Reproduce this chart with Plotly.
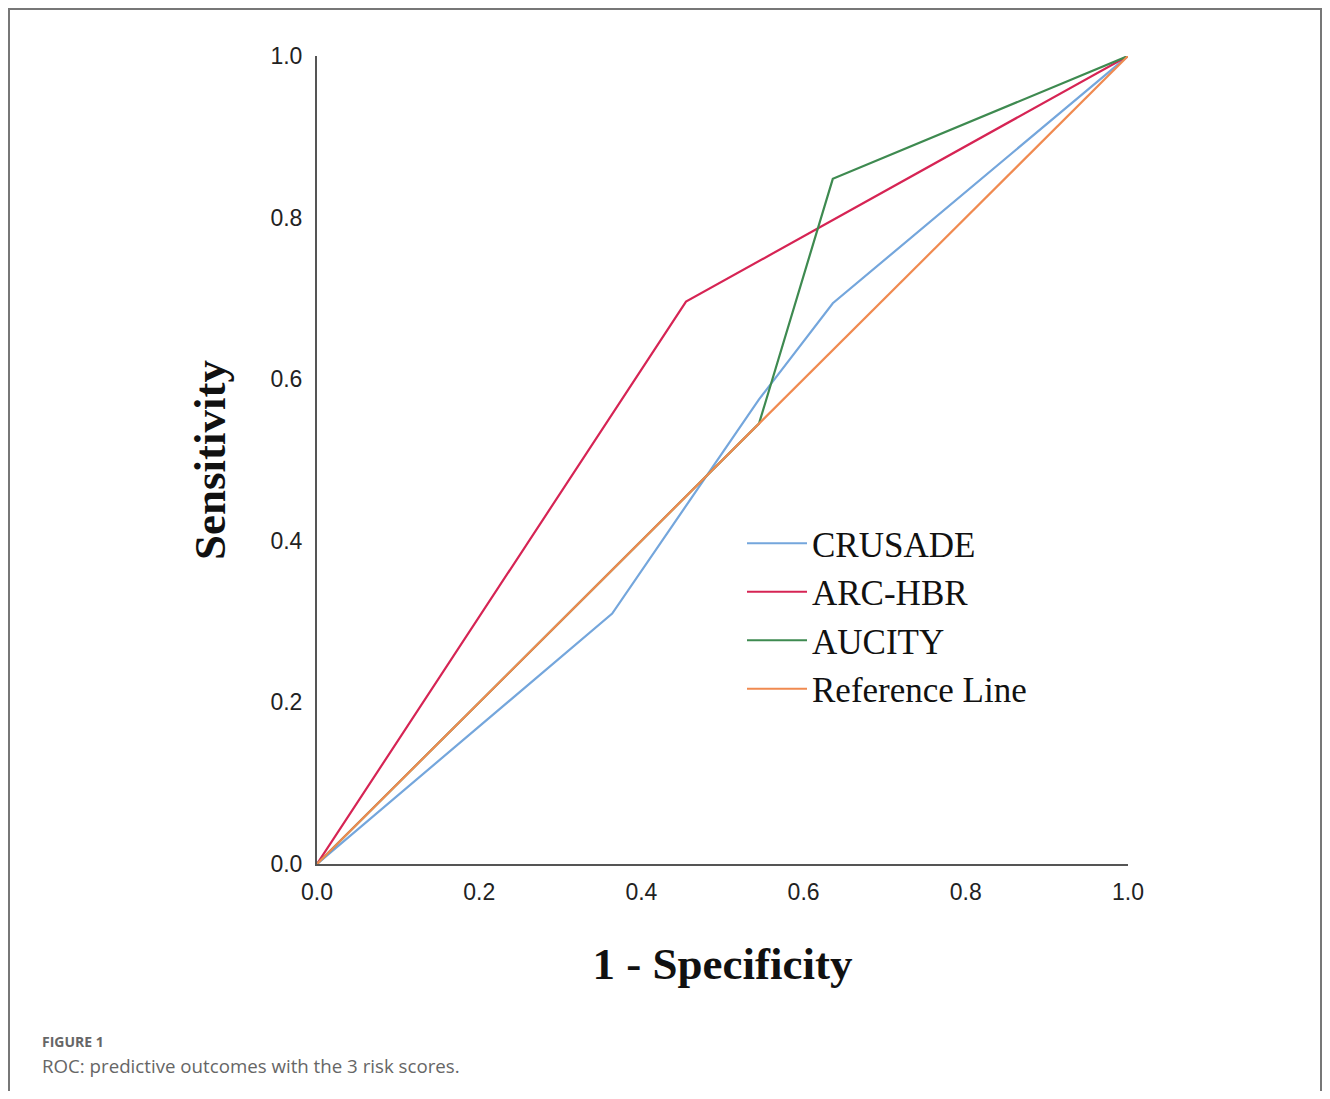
import plotly.graph_objects as go

# ROC data
crusade_x = [0.0, 0.364, 0.545, 0.636, 1.0]
crusade_y = [0.0, 0.31, 0.575, 0.694, 1.0]
arc_x = [0.0, 0.455, 1.0]
arc_y = [0.0, 0.696, 1.0]
aucity_x = [0.0, 0.545, 0.636, 1.0]
aucity_y = [0.0, 0.545, 0.848, 1.0]
ref_x = [0.0, 1.0]
ref_y = [0.0, 1.0]

series_names = ["CRUSADE", "ARC-HBR", "AUCITY", "Reference Line"]
series_colors = ["#74a6dc", "#d62454", "#3e8a50", "#f08a50"]
tick_vals = [0.0, 0.2, 0.4, 0.6, 0.8, 1.0]
tick_text = ["0.0", "0.2", "0.4", "0.6", "0.8", "1.0"]

OFF = 8  # page body margin
W, H = 1314, 1083
L = 317 - OFF
T = 56 - OFF
R = W - (1128 - OFF)
B = H - (864 - OFF)
pw, ph = W - L - R, H - T - B

fig = go.Figure()
for name, xs, ys, col in zip(series_names,
                             [crusade_x, arc_x, aucity_x, ref_x],
                             [crusade_y, arc_y, aucity_y, ref_y],
                             series_colors):
    fig.add_trace(go.Scatter(x=xs, y=ys, mode="lines", name=name,
                             line=dict(color=col, width=2.2)))

def px(xs):
    return (xs - OFF - L) / pw

def py(ys):
    return (H - B - (ys - OFF)) / ph

axis_common = dict(range=[0, 1], tickvals=tick_vals, ticktext=tick_text,
                   showgrid=False, zeroline=False, showline=True,
                   linecolor="#555555", linewidth=2, ticks="",
                   tickfont=dict(family="Liberation Sans, Arial", size=23, color="#222222"))

fig.update_layout(
    width=W, height=H,
    margin=dict(l=L, r=R, t=T, b=B),
    paper_bgcolor="white", plot_bgcolor="white",
    xaxis=dict(**axis_common, ticklabelstandoff=6,
               title=dict(text="<b>1 - Specificity</b>", standoff=44,
                          font=dict(family="Liberation Serif, Times New Roman", size=45, color="#111111"))),
    yaxis=dict(**axis_common, ticklabelstandoff=8,
               title=dict(text="<b>Sensitivity</b>", standoff=31,
                          font=dict(family="Liberation Serif, Times New Roman", size=45, color="#111111"))),
    legend=dict(x=px(742), y=py(514), xanchor="left", yanchor="top",
                bgcolor="rgba(0,0,0,0)", tracegroupgap=0,
                font=dict(family="Liberation Serif, Times New Roman", size=35, color="#111111"),
                itemwidth=60),
    showlegend=True,
)

# outer frame of the figure panel
fig.add_shape(type="rect", xref="paper", yref="paper",
              x0=px(OFF + 1), x1=px(OFF + W - 1), y0=py(1110), y1=py(OFF + 1),
              line=dict(color="#777777", width=2), fillcolor="rgba(0,0,0,0)", layer="below")

fig.add_annotation(text="<b>FIGURE 1</b>", xref="paper", yref="paper",
                   x=px(40), y=py(1041), xanchor="left", yanchor="middle", showarrow=False,
                   font=dict(family="Open Sans, Noto Sans", size=14, color="#666666"))
fig.add_annotation(text="ROC: predictive outcomes with the 3 risk scores.", xref="paper", yref="paper",
                   x=px(40), y=py(1065), xanchor="left", yanchor="middle", showarrow=False,
                   font=dict(family="Open Sans, Noto Sans", size=18.7, color="#666666"))

fig.write_html("out.html")
